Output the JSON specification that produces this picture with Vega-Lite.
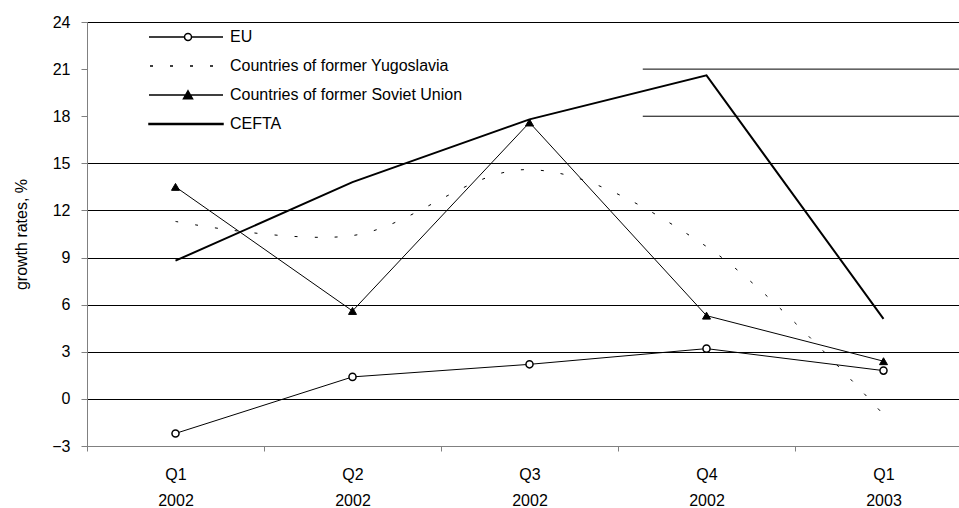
{
  "$schema": "https://vega.github.io/schema/vega-lite/v6.json",
  "width": 872,
  "height": 424,
  "autosize": {"type": "none"},
  "padding": {"left": 87, "top": 22, "right": 0, "bottom": 62},
  "background": "white",
  "config": {"view": {"stroke": null}, "font": "Liberation Sans"},
  "datasets": {
    "growth": [
      {"period": "Q1 2002", "series": "EU", "value": -2.2},
      {"period": "Q2 2002", "series": "EU", "value": 1.4},
      {"period": "Q3 2002", "series": "EU", "value": 2.2},
      {"period": "Q4 2002", "series": "EU", "value": 3.2},
      {"period": "Q1 2003", "series": "EU", "value": 1.8},
      {"period": "Q1 2002", "series": "Countries of former Yugoslavia", "value": 11.3},
      {"period": "Q2 2002", "series": "Countries of former Yugoslavia", "value": 10.4},
      {"period": "Q3 2002", "series": "Countries of former Yugoslavia", "value": 14.6},
      {"period": "Q4 2002", "series": "Countries of former Yugoslavia", "value": 9.7},
      {"period": "Q1 2003", "series": "Countries of former Yugoslavia", "value": -1.0},
      {"period": "Q1 2002", "series": "Countries of former Soviet Union", "value": 13.5},
      {"period": "Q2 2002", "series": "Countries of former Soviet Union", "value": 5.6},
      {"period": "Q3 2002", "series": "Countries of former Soviet Union", "value": 17.6},
      {"period": "Q4 2002", "series": "Countries of former Soviet Union", "value": 5.3},
      {"period": "Q1 2003", "series": "Countries of former Soviet Union", "value": 2.4},
      {"period": "Q1 2002", "series": "CEFTA", "value": 8.8},
      {"period": "Q2 2002", "series": "CEFTA", "value": 13.8},
      {"period": "Q3 2002", "series": "CEFTA", "value": 17.8},
      {"period": "Q4 2002", "series": "CEFTA", "value": 20.6},
      {"period": "Q1 2003", "series": "CEFTA", "value": 5.1}
    ],
    "gridlines": [{"gridline": 21}, {"gridline": 18}]
  },
  "data": {"name": "growth"},
  "encoding": {
    "x": {
      "field": "period",
      "type": "ordinal",
      "sort": ["Q1 2002", "Q2 2002", "Q3 2002", "Q4 2002", "Q1 2003"],
      "scale": {"type": "band", "paddingInner": 0, "paddingOuter": 0, "range": [0, 885]},
      "axis": {
        "title": null,
        "labelExpr": "split(datum.label, ' ')",
        "labelAngle": 0,
        "tickBand": "extent",
        "grid": false,
        "domainColor": "#808080",
        "tickColor": "#808080",
        "tickSize": 5,
        "labelFontSize": 16,
        "labelLineHeight": 26,
        "labelPadding": 15,
        "labelColor": "black",
        "labelFont": "Liberation Sans"
      }
    },
    "y": {
      "field": "value",
      "type": "quantitative",
      "scale": {"domain": [-3, 24], "nice": false, "zero": false},
      "axis": {
        "title": "growth rates, %",
        "values": [-3, 0, 3, 6, 9, 12, 15, 18, 21, 24],
        "grid": true,
        "gridColor": "black",
        "gridWidth": 1,
        "gridOpacity": {"condition": {"test": "datum.value === 21 || datum.value === 18", "value": 0}, "value": 1},
        "domainColor": "#808080",
        "tickColor": "#808080",
        "tickSize": 6,
        "labelPadding": 11,
        "labelFontSize": 16,
        "labelColor": "black",
        "labelFont": "Liberation Sans",
        "titleFontSize": 16,
        "titleFontWeight": "normal",
        "titleColor": "black",
        "titleFont": "Liberation Sans",
        "titlePadding": 22
      }
    }
  },
  "layer": [
    {
      "data": {"name": "gridlines"},
      "mark": {"type": "rule", "color": "black", "strokeWidth": 1},
      "encoding": {
        "x": {"datum": "Q4 2002", "bandPosition": 0.14},
        "x2": {"value": "width"},
        "y": {"field": "gridline", "type": "quantitative", "title": "growth rates, %"}
      }
    },
    {
      "transform": [{"filter": "datum.series == 'EU' || datum.series == 'Countries of former Soviet Union'"}],
      "mark": {"type": "line", "color": "black", "strokeWidth": 1},
      "encoding": {"detail": {"field": "series", "type": "nominal"}}
    },
    {
      "transform": [{"filter": "datum.series == 'Countries of former Yugoslavia'"}],
      "mark": {"type": "line", "color": "black", "strokeWidth": 1, "strokeDash": [3, 17], "interpolate": "catmull-rom"},
      "encoding": {}
    },
    {
      "transform": [{"filter": "datum.series == 'CEFTA'"}],
      "mark": {"type": "line", "color": "black", "strokeWidth": 2},
      "encoding": {}
    },
    {
      "transform": [{"filter": "datum.series == 'EU'"}],
      "mark": {"type": "point", "shape": "circle", "filled": true, "fill": "white", "stroke": "black", "strokeWidth": 1.5, "size": 50, "opacity": 1},
      "encoding": {}
    },
    {
      "transform": [{"filter": "datum.series == 'Countries of former Soviet Union'"}],
      "mark": {"type": "point", "shape": "triangle-up", "filled": true, "fill": "black", "stroke": "black", "strokeWidth": 1, "size": 64, "opacity": 1},
      "encoding": {}
    },
    {
      "transform": [{"filter": "false"}],
      "mark": {"type": "point", "filled": true, "stroke": "black", "strokeWidth": 1, "opacity": 1},
      "encoding": {
        "shape": {
          "field": "series",
          "type": "nominal",
          "scale": {
            "domain": ["EU", "Countries of former Yugoslavia", "Countries of former Soviet Union", "CEFTA"],
            "range": [
              "M-7.4,0H-0.3M1.1,0H7.4M1.1,0A0.7,0.7,0,1,1,-0.3,0A0.7,0.7,0,1,1,1.1,0Z",
              "M-7.4,0M7.4,0M-7.2,0H-6.6M-3.2,0H-2.6M0.8,0H1.4M4.8,0H5.4",
              "M-7.4,0H7.4M0.4,-0.85L1.3,0.75H-0.5Z",
              "M-7.4,-0.1H7.4V0.1H-7.4Z"
            ]
          },
          "legend": {
            "title": null, "orient": "none", "legendX": 91, "legendY": 7, "padding": 0,
            "symbolSize": 100, "labelFontSize": 16, "labelColor": "black", "labelFont": "Liberation Sans",
            "rowPadding": 13, "labelOffset": 36, "labelLimit": 0, "symbolOpacity": 1
          }
        },
        "fill": {
          "field": "series",
          "type": "nominal",
          "scale": {
            "domain": ["EU", "Countries of former Yugoslavia", "Countries of former Soviet Union", "CEFTA"],
            "range": ["white", "white", "black", "black"]
          },
          "legend": {
            "title": null, "orient": "none", "legendX": 91, "legendY": 7, "padding": 0,
            "symbolSize": 100, "labelFontSize": 16, "labelColor": "black", "labelFont": "Liberation Sans",
            "rowPadding": 13, "labelOffset": 36, "labelLimit": 0, "symbolOpacity": 1
          }
        }
      }
    }
  ]
}
